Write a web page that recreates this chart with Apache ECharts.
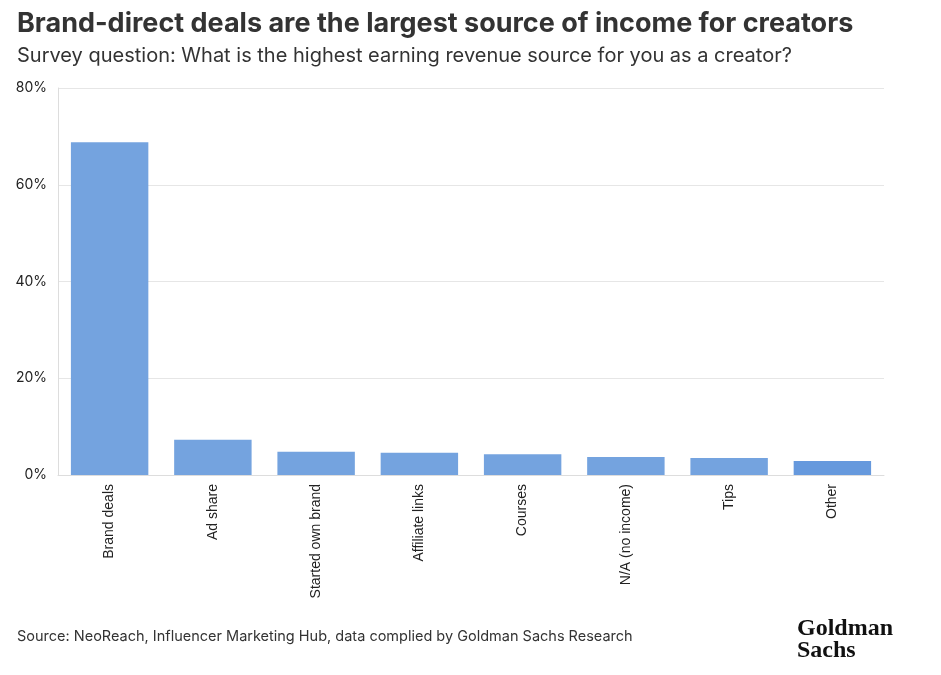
<!DOCTYPE html>
<html>
<head>
<meta charset="utf-8">
<script src="https://cdn.jsdelivr.net/npm/echarts@6/dist/echarts.min.js"></script>
<style>
  html, body { margin: 0; padding: 0; background: #fff; }
  #chart { width: 941px; height: 675px; }
</style>
</head>
<body>
<div id="chart"></div>
<script>
const categories = ["Brand deals", "Ad share", "Started own brand", "Affiliate links", "Courses", "N/A (no income)", "Tips", "Other"]
const shares = [68.8, 7.3, 4.8, 4.6, 4.3, 3.7, 3.5, 2.9]
const yTicks = [0, 20, 40, 60, 80]

const chart = echarts.init(document.getElementById("chart"))
const option = {
  animation: false,
  title: [
    {
      text: "Brand-direct deals are the largest source of income for creators",
      left: 17,
      top: 10,
      padding: 0,
      textStyle: { fontFamily: "Inter", fontWeight: "bold", fontSize: 27, color: "#333" }
    },
    {
      text: "Survey question: What is the highest earning revenue source for you as a creator?",
      left: 17,
      top: 46,
      padding: 0,
      textStyle: { fontFamily: "Inter", fontWeight: "normal", fontSize: 20, color: "#333" }
    }
  ],
  graphic: [
    {
      type: "text",
      left: 17,
      top: 629,
      style: {
        text: "Source: NeoReach, Influencer Marketing Hub, data complied by Goldman Sachs Research",
        font: "14.5px Inter",
        fill: "#333"
      }
    },
    {
      type: "text",
      left: 797,
      top: 617,
      style: {
        text: "Goldman\nSachs",
        font: "bold 24px 'Liberation Serif'",
        lineHeight: 22,
        fill: "#111"
      }
    }
  ],
  grid: { left: 58, right: 57, top: 88, bottom: 200 },
  xAxis: {
    type: "category",
    data: categories,
    axisLine: { lineStyle: { color: "#ddd" } },
    axisTick: { alignWithLabel: true, length: 5, lineStyle: { color: "#ddd" } },
    axisLabel: {
      rotate: 90,
      interval: 0,
      margin: 9,
      fontFamily: "Liberation Sans",
      fontSize: 14,
      color: "#222"
    }
  },
  yAxis: {
    type: "value",
    min: yTicks[0],
    max: yTicks[yTicks.length - 1],
    interval: 20,
    axisLine: { show: true, lineStyle: { color: "#ddd" } },
    axisTick: { show: false },
    splitLine: { lineStyle: { color: "#e6e6e6" } },
    axisLabel: {
      formatter: "{value}%",
      margin: 11,
      fontFamily: "Inter",
      fontSize: 14,
      color: "#222"
    }
  },
  series: [
    {
      type: "bar",
      barWidth: "75%",
      data: shares.map((v, i) => ({
        value: v,
        itemStyle: { color: i === shares.length - 1 ? "#6699dd" : "#74a3df" }
      }))
    }
  ]
}
chart.setOption(option)
</script>
</body>
</html>
